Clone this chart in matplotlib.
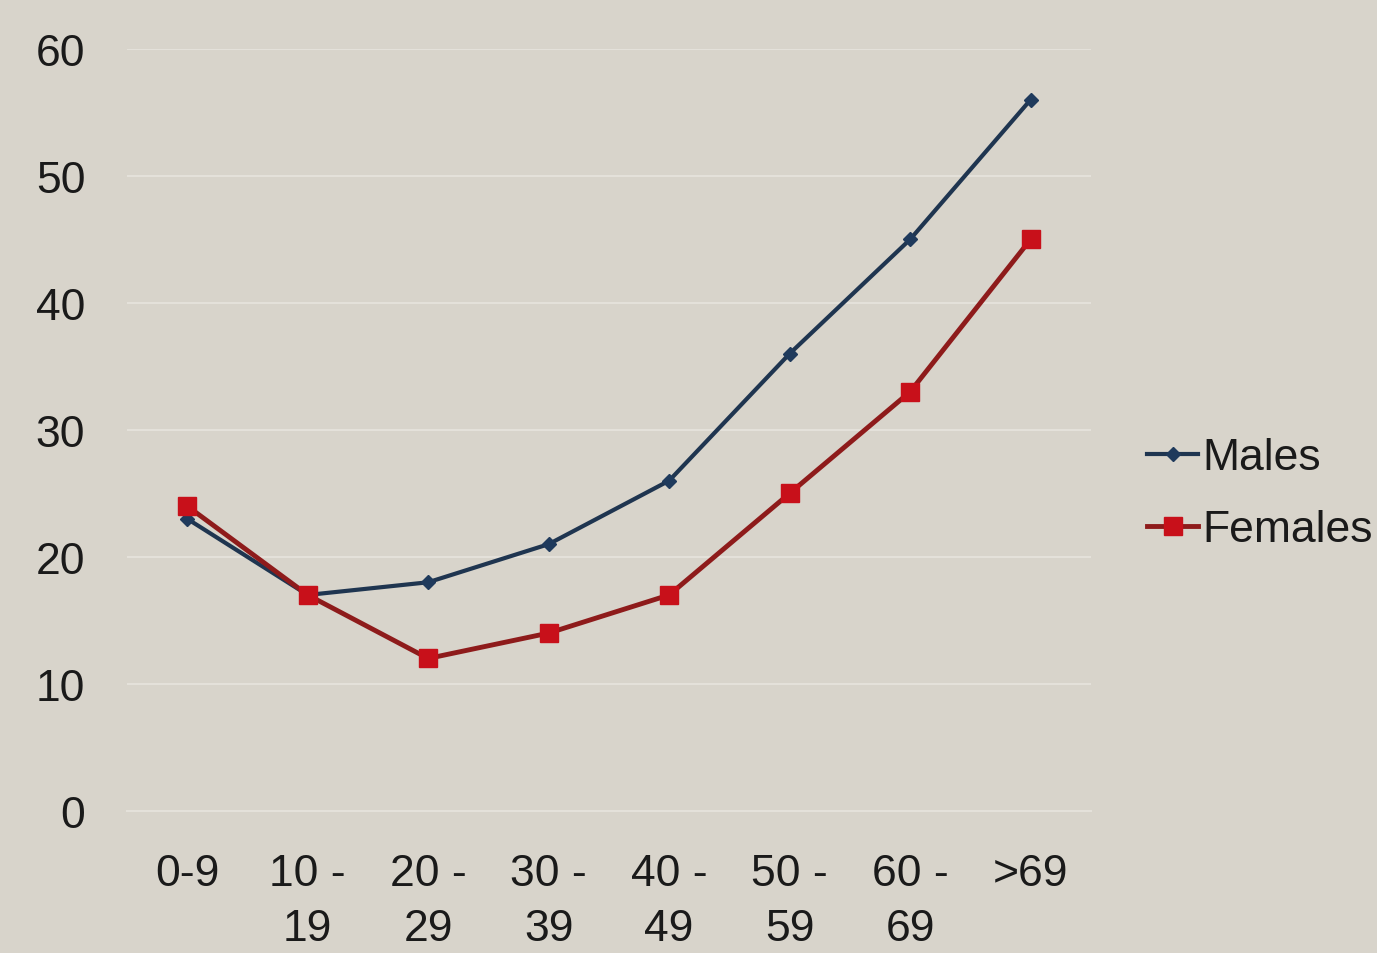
import matplotlib.pyplot as plt

age_groups = ['0-9', '10 -\n19', '20 -\n29', '30 -\n39', '40 -\n49', '50 -\n59', '60 -\n69', '>69']
males = [23, 17, 18, 21, 26, 36, 45, 56]
females = [24, 17, 12, 14, 17, 25, 33, 45]
y_ticks = [0, 10, 20, 30, 40, 50, 60]

bg = '#d8d4cb'
plt.rcParams['font.family'] = ['Liberation Sans', 'DejaVu Sans']

fig = plt.figure(figsize=(13.77, 9.54), dpi=100, facecolor=bg)
ax = fig.add_axes([0.0922, 0.149, 0.70, 0.7987], facecolor=bg)

x = range(len(age_groups))
ax.plot(x, males, color='#1f3550', lw=3, marker='D', ms=7,
        mfc='#1f3a5c', mec='#1f3a5c', label='Males', zorder=3)
ax.plot(x, females, color='#8e1b1b', lw=3.5, marker='s', ms=13,
        mfc='#c8101a', mec='#c8101a', label='Females', zorder=4)

ax.set_xlim(-0.5, len(age_groups) - 0.5)
ax.set_ylim(0, 60)
ax.set_yticks(y_ticks)
ax.set_xticks(list(x))
ax.set_xticklabels(age_groups, fontsize=32, linespacing=1.45)
ax.tick_params(axis='y', labelsize=32, length=0, pad=30)
ax.tick_params(axis='x', length=0, pad=30)
for lab in ax.get_yticklabels() + ax.get_xticklabels():
    lab.set_color('#1a1a1a')

ax.grid(axis='y', color='#e4e1da', lw=1.5)
ax.set_axisbelow(True)
for side in ['top', 'right', 'left']:
    ax.spines[side].set_visible(False)
ax.spines['bottom'].set_color('#e4e1da')
ax.spines['bottom'].set_linewidth(1.5)

leg = ax.legend(loc='center left', bbox_to_anchor=(1.04, 0.416), frameon=False,
                fontsize=32, handlelength=1.15, handletextpad=0.1,
                labelspacing=0.7, borderaxespad=0)
for t in leg.get_texts():
    t.set_color('#1a1a1a')

fig.savefig('out.png', dpi=100, facecolor=bg)
